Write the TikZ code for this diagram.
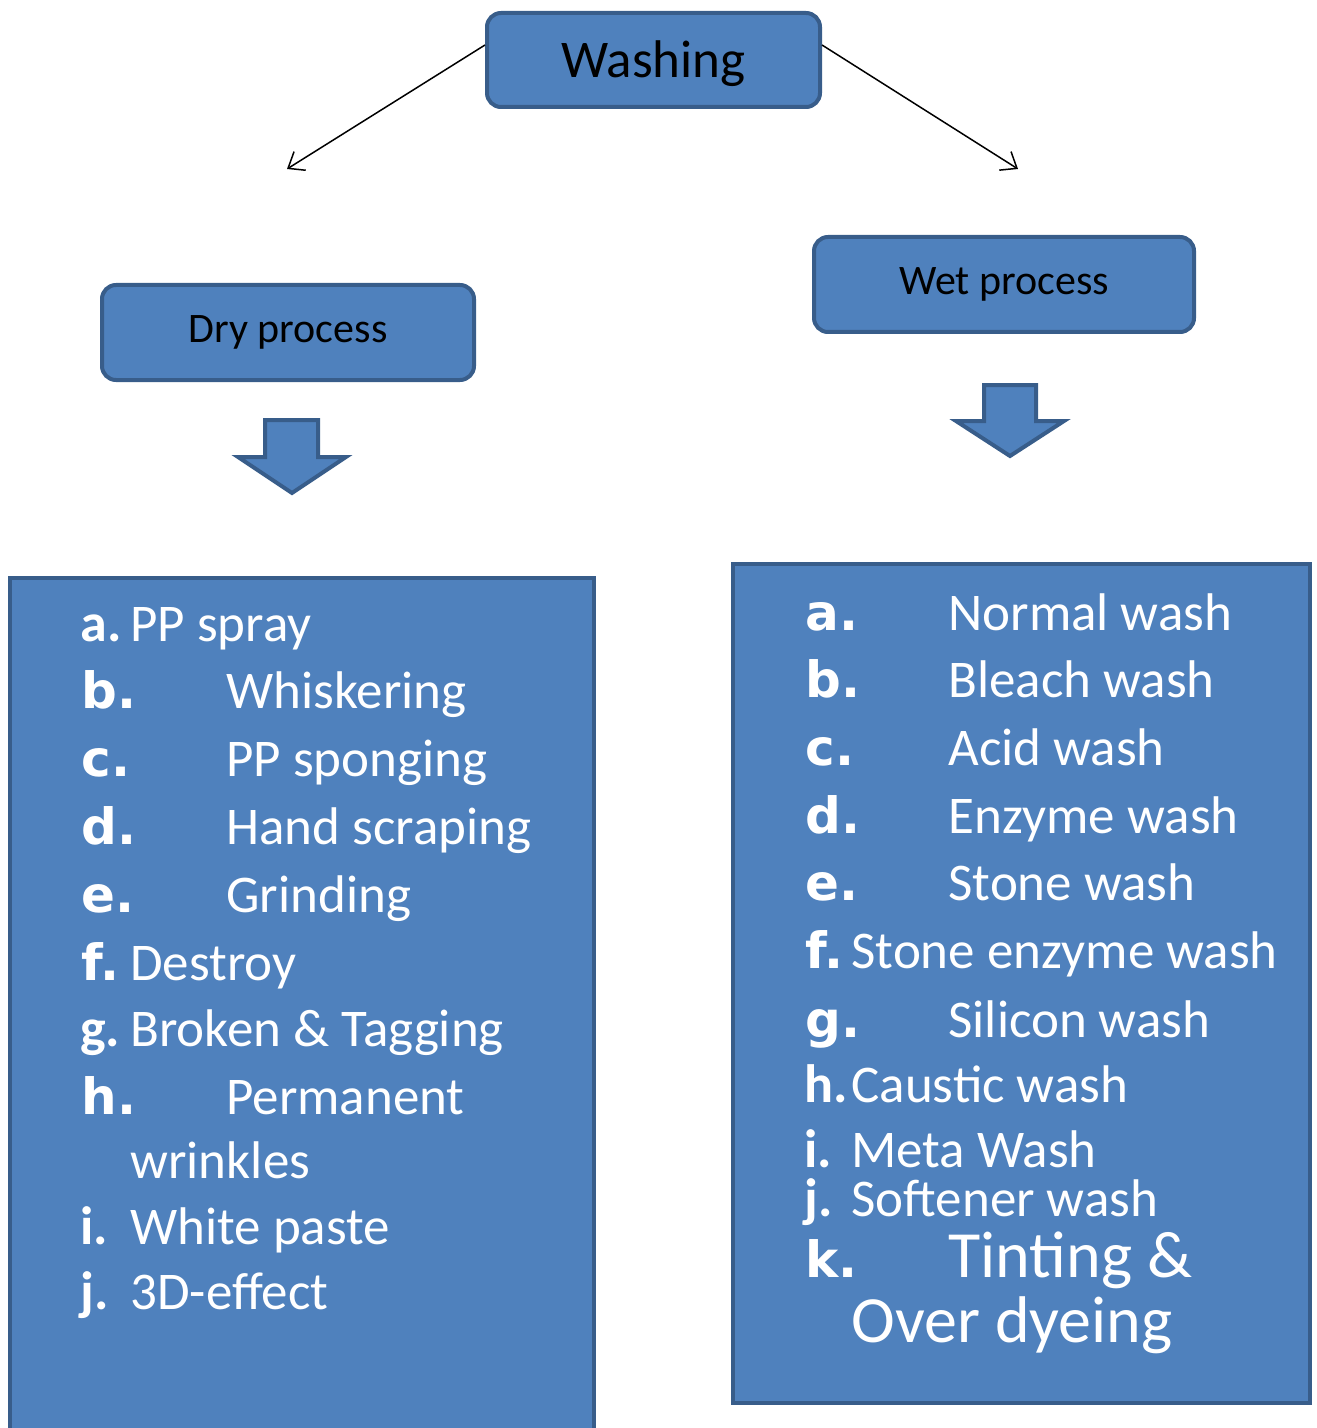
\documentclass[tikz,border=0pt]{standalone}
\usepackage{fontspec}
\setmainfont{Carlito}
\newfontfamily\labelfont{DejaVu Sans}
\usetikzlibrary{arrows.meta}
\definecolor{boxfill}{HTML}{4F81BD}
\definecolor{boxline}{HTML}{385D8A}
\begin{document}
\begin{tikzpicture}[x=0.5pt,y=-0.5pt,
  headbox/.style={draw=boxline, fill=boxfill, line width=2pt, rounded corners=7pt,
    inner sep=0pt, text=black},
  listbox/.style={draw=boxline, fill=boxfill, line width=1.75pt},
  blockarrow/.style={draw=boxline, fill=boxfill, line width=2pt, line join=miter},
  conn/.style={line width=0.75pt, -{Straight Barb[length=7pt,width=11pt]}},
  item/.style={anchor=base west, inner sep=0pt, text=white,
    font=\fontsize{26.5}{30}\selectfont},
  bigitem/.style={item, font=\fontsize{33}{36}\selectfont},
  biglbl/.style={item, font=\labelfont\bfseries\fontsize{25}{30}\selectfont},
  smalllbl/.style={item, font=\bfseries\fontsize{27}{30}\selectfont}]
\useasboundingbox (0,0) rectangle (1316,1428);
\clip (0,0) rectangle (1316,1428);

% top-level heading and the two branches
\node[headbox, minimum width=166.5pt, minimum height=47pt,
  text height=20pt, text depth=2pt,
  font=\fontsize{26.5}{30}\selectfont] (wash) at (653.5,60) {Washing};
\node[headbox, minimum width=186pt, minimum height=47.5pt,
  font=\fontsize{21}{25}\selectfont] (dry) at (288,332.5) {Dry process};
\node[headbox, minimum width=190pt, minimum height=47.5pt,
  font=\fontsize{21}{25}\selectfont] (wet) at (1004,284.5) {Wet process};

\coordinate (dryend) at (287,169);
\coordinate (wetend) at (1018,169);
\draw[conn] ([yshift=7.5pt]wash.west) -- (dryend);
\draw[conn] ([yshift=7.5pt]wash.east) -- (wetend);

% block arrows pointing down to the lists
\draw[blockarrow] (265,420) -- (318,420) -- (318,457) -- (346,457) -- (292,493)
  -- (238,457) -- (265,457) -- cycle;
\draw[blockarrow] (984,385) -- (1036,385) -- (1036,421) -- (1064,421) -- (1010,456)
  -- (956,421) -- (984,421) -- cycle;

% list panels
\draw[listbox] (10,578) rectangle (594,1450);
\draw[listbox] (733,564) rectangle (1310,1403);

% dry process list
\node[smalllbl] (dla) at (80,641) {a.};
\node[item] (dta) at (130,641) {PP spray};
\node[biglbl] (dlb) at (81,708) {b.};
\node[item] (dtb) at (226,708) {Whiskering};
\node[biglbl] (dlc) at (81,776) {c.};
\node[item] (dtc) at (226,776) {PP sponging};
\node[biglbl] (dld) at (81,844) {d.};
\node[item] (dtd) at (226,844) {Hand scraping};
\node[biglbl] (dle) at (81,912) {e.};
\node[item] (dte) at (226,912) {Grinding};
\node[biglbl] (dlf) at (81,980) {f.};
\node[item] (dtf) at (130,980) {Destroy};
\node[smalllbl] (dlg) at (80,1046) {g.};
\node[item] (dtg) at (130,1046) {Broken \& Tagging};
\node[biglbl] (dlh) at (81,1114) {h.};
\node[item] (dth) at (226,1114) {Permanent};
\node[item] (dth2) at (130,1178) {wrinkles};
\node[smalllbl] (dli) at (80,1244) {i.};
\node[item] (dti) at (130,1244) {White paste};
\node[smalllbl] (dlj) at (80,1309) {j.};
\node[item] (dtj) at (130,1309) {3D-effect};

% wet process list
\node[biglbl] (wla) at (805,630) {a.};
\node[item] (wta) at (948,630) {Normal wash};
\node[biglbl] (wlb) at (805,697) {b.};
\node[item] (wtb) at (948,697) {Bleach wash};
\node[biglbl] (wlc) at (805,765) {c.};
\node[item] (wtc) at (948,765) {Acid wash};
\node[biglbl] (wld) at (805,833) {d.};
\node[item] (wtd) at (948,833) {Enzyme wash};
\node[biglbl] (wle) at (805,900) {e.};
\node[item] (wte) at (948,900) {Stone wash};
\node[biglbl] (wlf) at (805,968) {f.};
\node[item] (wtf) at (851,968) {Stone enzyme wash};
\node[biglbl] (wlg) at (805,1037) {g.};
\node[item] (wtg) at (948,1037) {Silicon wash};
\node[smalllbl] (wlh) at (804,1102) {h.};
\node[item] (wth) at (851,1102) {Caustic wash};
\node[smalllbl] (wli) at (804,1167) {i.};
\node[item] (wti) at (851,1167) {Meta Wash};
\node[smalllbl] (wlj) at (804,1216) {j.};
\node[item] (wtj) at (851,1216) {Softener wash};
\node[biglbl] (wlk) at (805,1277) {k.};
\node[bigitem] (wtk) at (948,1277) {Tinting \&};
\node[bigitem] (wtk2) at (851,1342) {Over dyeing};
\end{tikzpicture}
\end{document}
